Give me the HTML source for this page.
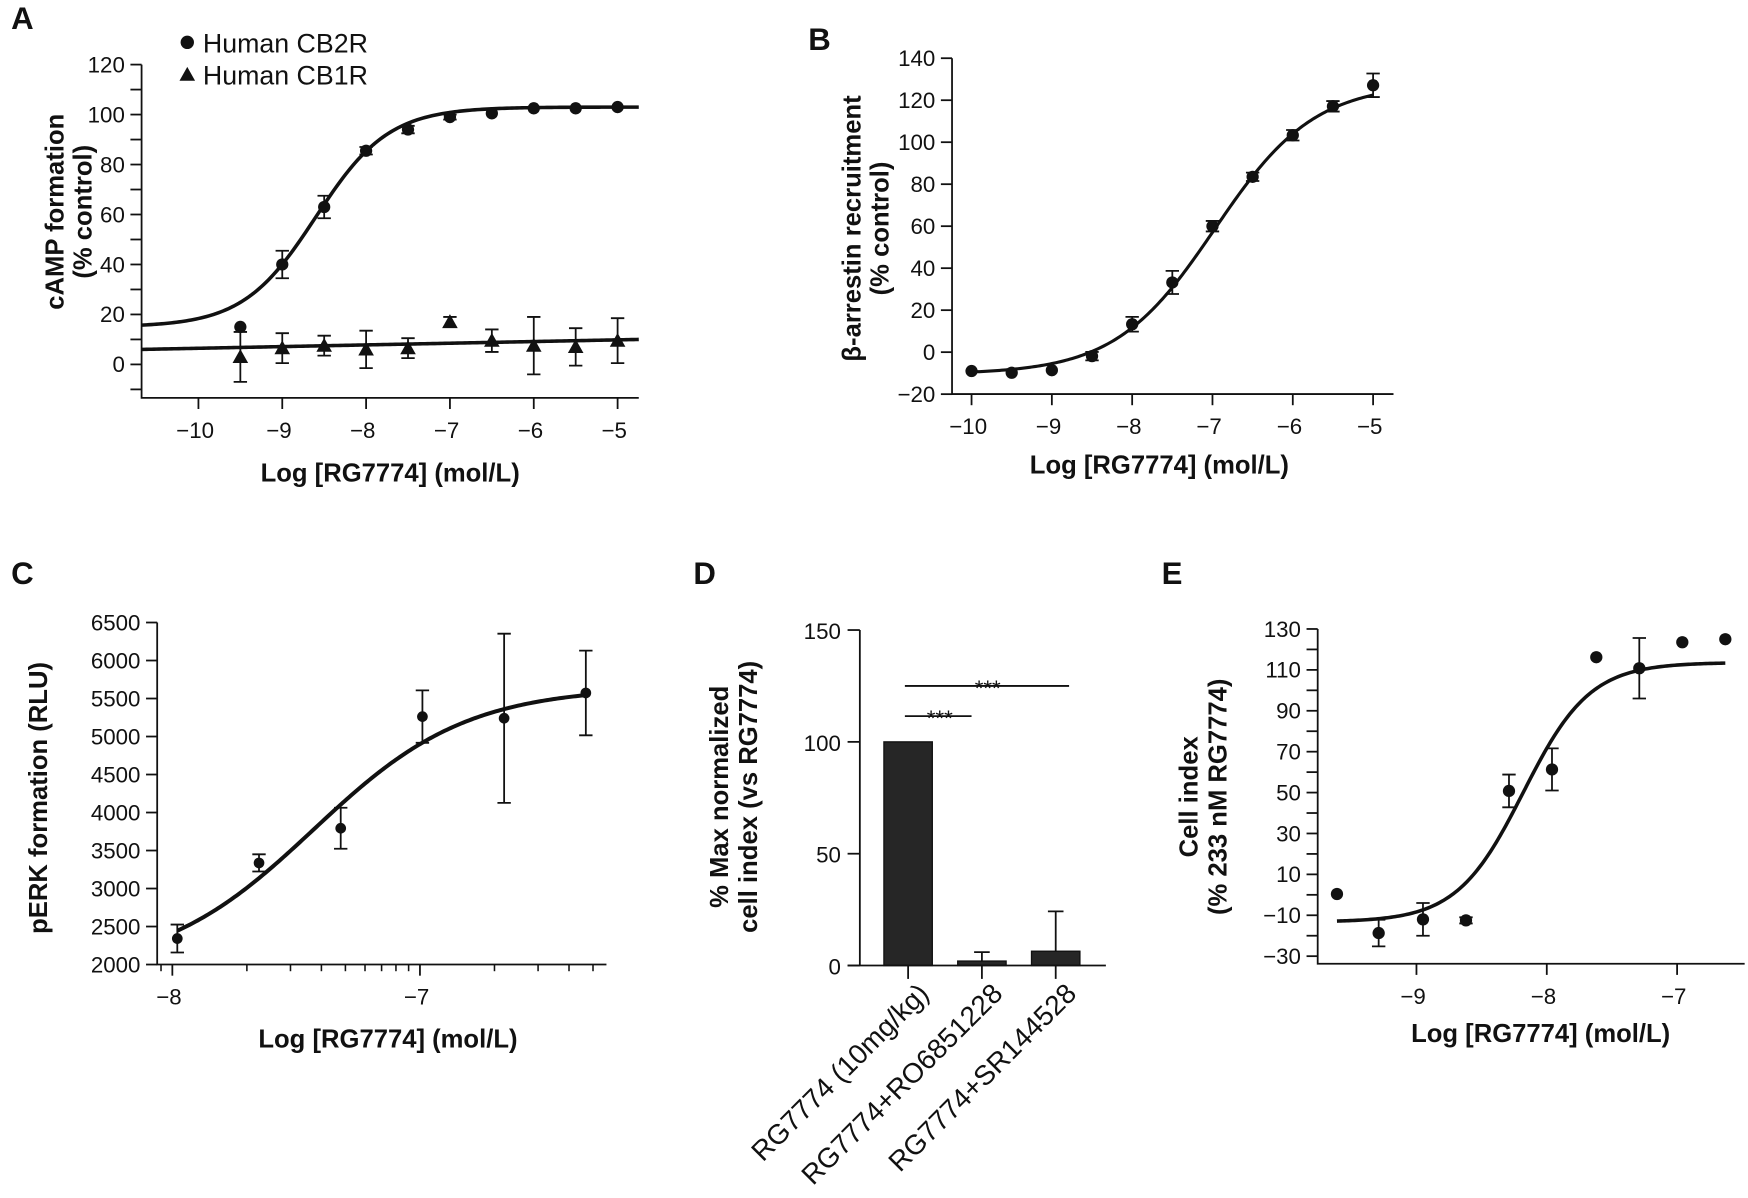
<!DOCTYPE html>
<html><head><meta charset="utf-8">
<style>
html,body{margin:0;padding:0;background:#fff;}
svg{display:block;}
text{font-family:"Liberation Sans",Arial,sans-serif;fill:#111;}
.tk{font-size:20px;}
.tt{font-size:23px;font-weight:bold;}
.pl{font-size:28px;font-weight:bold;}
.cat{font-size:25px;}
.lg{font-size:24px;}
</style></head>
<body>
<svg id="fig" width="1748" height="1198" viewBox="0 0 1568 1075" preserveAspectRatio="none" xmlns="http://www.w3.org/2000/svg"></svg>
<script>
// ---- Panel A data ----
const aLogX = [-9.5,-9,-8.5,-8,-7.5,-7,-6.5,-6,-5.5,-5];
const aCB2 = [15,40,63,85.5,94,99,100.5,102.5,102.5,103];
const aCB2err = [0,5.5,4.5,1.5,1.5,1,0.8,0.8,0.8,0.5];
const aCB1 = [3,6.5,7.5,6,6.5,17,9.5,7.5,7,9.5];
const aCB1err = [10,6,4,7.5,4,2,4.5,11.5,7.5,9];
const aFitCB2 = [15,103,-8.6,1]; // bottom, top, logEC50, hill
const aFitCB1 = [6,10]; // linear fit at left/right end of axis
const aYTicks = [0,20,40,60,80,100,120];
const aXTicks = [-10,-9,-8,-7,-6,-5];
// ---- Panel B data ----
const bLogX = [-10,-9.5,-9,-8.5,-8,-7.5,-7,-6.5,-6,-5.5,-5];
const bVal = [-9,-9.8,-8.6,-1.9,13.3,33.2,60,83.5,103.3,117.1,127.1];
const bErr = [0.8,1,1,2,3.5,5.5,2.5,2,2.5,2.5,5.6];
const bFit = [-10.5,128,-6.97,0.7];
const bYTicks = [-20,0,20,40,60,80,100,120,140];
const bXTicks = [-10,-9,-8,-7,-6,-5];
// ---- Panel C data ----
const cLogX = [-7.98,-7.65,-7.32,-6.99,-6.66,-6.33];
const cVal = [2342,3337,3793,5262,5240,5573];
const cErr = [184,113,270,345,1113,557];
const cFit = [1900,5650,-7.43,1.4];
const cYTicks = [2000,2500,3000,3500,4000,4500,5000,5500,6000,6500];
const cXTicks = [-8,-7];
// ---- Panel D data ----
const dCats = ["RG7774 (10mg/kg)","RG7774+RO6851228","RG7774+SR144528"];
const dVal = [100,2,6.4];
const dErr = [0,4,17.8];
const dYTicks = [0,50,100,150];
// ---- Panel E data ----
const eLogX = [-9.61,-9.29,-8.95,-8.62,-8.29,-7.96,-7.62,-7.29,-6.96,-6.63];
const eVal = [0.4,-18.7,-12,-12.5,50.8,61.3,116.2,110.8,123.5,125];
const eErr = [0,6.5,8,1.5,8,10.3,0,14.8,0,0];
const eFit = [-13.3,113.6,-8.18,1.7];
const eYTicks = [-30,-10,10,30,50,70,90,110,130];
const eXTicks = [-9,-8,-7];

const NS = "http://www.w3.org/2000/svg";
const svg = document.getElementById('fig');
function mk(tag, attrs, parent){
  const e = document.createElementNS(NS, tag);
  for (const k in attrs) e.setAttribute(k, attrs[k]);
  (parent||svg).appendChild(e);
  return e;
}
function txt(s, x, y, cls, anchor, parent, rot){
  const t = mk('text', {x:x, y:y, class:cls, 'text-anchor':anchor||'middle'}, parent);
  if (rot) t.setAttribute('transform', 'rotate('+rot+' '+x+' '+y+')');
  t.textContent = s;
  return t;
}
function fmt(v){ return v<0 ? '\u2212'+Math.abs(v) : String(v); }
function sig(p, x){ return p[0] + (p[1]-p[0])/(1+Math.pow(10,(p[2]-x)*p[3])); }
function linePath(fn, x0, x1, sx, sy){
  let d='';
  for(let i=0;i<=200;i++){const x=x0+(x1-x0)*i/200; d+=(i?'L':'M')+sx(x).toFixed(2)+' '+sy(fn(x)).toFixed(2);}
  return d;
}
function axes(g, ax){
  const a = mk('path',{d:'M'+ax.x0+' '+ax.yTop+'L'+ax.x0+' '+ax.yBot+'L'+ax.x1+' '+ax.yBot,fill:'none',stroke:'#111','stroke-width':1.6},g);
  
  
  ax.yTicks.forEach(v=>{
    const y=ax.sy(v);
    mk('line',{x1:ax.x0-10,x2:ax.x0,y1:y,y2:y,stroke:'#111','stroke-width':1.6},g);
    const t=txt(fmt(v), ax.x0-15, y+7, 'tk','end',g);
    
    
  });
  (ax.yMinor||[]).forEach(v=>{
    const y=ax.sy(v);
    mk('line',{x1:ax.x0-10,x2:ax.x0,y1:y,y2:y,stroke:'#111','stroke-width':1.6},g);
  });
  ax.xTicks.forEach(v=>{
    const x=ax.sx(v);
    mk('line',{x1:x,x2:x,y1:ax.yBot,y2:ax.yBot+(ax.xtl||10),stroke:'#111','stroke-width':1.6},g);
    const t=txt(fmt(v), x-3, ax.yBot+36, 'tk','middle',g);
    
    
  });
  (ax.xMinor||[]).forEach(v=>{
    const x=ax.sx(v);
    mk('line',{x1:x,x2:x,y1:ax.yBot,y2:ax.yBot+6,stroke:'#111','stroke-width':1.4},g);
  });
}
function errbar(g,x,y1,y2){
  const p = mk('path',{d:'M'+x+' '+y1+'L'+x+' '+y2+'M'+(x-6)+' '+y1+'L'+(x+6)+' '+y1+'M'+(x-6)+' '+y2+'L'+(x+6)+' '+y2,stroke:'#111','stroke-width':1.6,fill:'none'},g);
  
  
}
function dot(g,x,y,r){
  const c = mk('circle',{cx:x,cy:y,r:r||5.5,fill:'#111'},g);
  
  
}
function tri(g,x,y){
  const p = mk('path',{d:'M'+x+' '+(y-7)+'L'+(x+7)+' '+(y+5.5)+'L'+(x-7)+' '+(y+5.5)+'Z',fill:'#111'},g);
  
  
}
function curve(g, fn, x0, x1, sx, sy, w){
  const p = mk('path',{d:linePath(fn,x0,x1,sx,sy),fill:'none',stroke:'#111','stroke-width':w||3.2},g);
  
  
}
function logMinors(lo, hi){
  const out=[];
  for(let d=Math.floor(lo)-1; d<=Math.ceil(hi); d++){
    for(let k=2;k<=9;k++){const v=d+Math.log10(k); if(v>lo && v<hi) out.push(v);}
  }
  return out;
}

// ===== Panel A =====
(function(){
  const g = mk('g',{});
  
  
  const sx = v => 178 + (v+10)*75.2;
  const sy = v => 327 - v*2.242;
  const x0=127, x1=573, yBot=357;
  const xmin=-10-(178-x0)/75.2, xmax=-10+(x1-178)/75.2;
  axes(g,{x0:x0,x1:x1,yTop:sy(120),yBot:yBot,sx:sx,sy:sy,yTicks:aYTicks,xTicks:aXTicks,yMinor:[-10,10,30,50,70,90,110]});
  curve(g, x=>sig(aFitCB2,x), xmin, xmax, sx, sy);
  curve(g, x=>aFitCB1[0]+(aFitCB1[1]-aFitCB1[0])*(x-xmin)/(xmax-xmin), xmin, xmax, sx, sy);
  aLogX.forEach((lx,i)=>{
    if(aCB2err[i]>0.9) errbar(g,sx(lx),sy(aCB2[i]+aCB2err[i]),sy(aCB2[i]-aCB2err[i]));
    dot(g,sx(lx),sy(aCB2[i]));
    errbar(g,sx(lx),sy(aCB1[i]+aCB1err[i]),sy(aCB1[i]-aCB1err[i]));
    tri(g,sx(lx),sy(aCB1[i]));
  });
  const l=txt('A',10,26,'pl','start',g);  
  dot(g,168,38,6); const t1=txt('Human CB2R',182,47,'lg','start',g);  
  tri(g,168,67); const t2=txt('Human CB1R',182,76,'lg','start',g);  
  const y1=txt('cAMP formation',57,190,'tt','middle',g,-90);  
  txt('(% control)',82,190,'tt','middle',g,-90);
  const xt=txt('Log [RG7774] (mol/L)',350,432,'tt','middle',g);  
})();

// ===== Panel B =====
(function(){
  const g = mk('g',{});
  
  
  const sx = v => 871.5 + (v+10)*72.04;
  const sy = v => 316 - v*1.884;
  const x0=854, x1=1250, yBot=353.6;
  axes(g,{x0:x0,x1:x1,yTop:sy(140),yBot:yBot,sx:sx,sy:sy,yTicks:bYTicks,xTicks:bXTicks});
  curve(g, x=>sig(bFit,x), -10, -5, sx, sy, 2.8);
  bLogX.forEach((lx,i)=>{
    if(bErr[i]>1.5) errbar(g,sx(lx),sy(bVal[i]+bErr[i]),sy(bVal[i]-bErr[i]));
    dot(g,sx(lx),sy(bVal[i]));
  });
  const l=txt('B',725,45,'pl','start',g);  
  const y1=txt('\u03B2-arrestin recruitment',772,205,'tt','middle',g,-90);  
  txt('(% control)',797,205,'tt','middle',g,-90);
  const xt=txt('Log [RG7774] (mol/L)',1040,425,'tt','middle',g);  
})();

// ===== Panel C =====
(function(){
  const g = mk('g',{});
  
  
  const sx = v => 154.6 + (v+8)*222.1;
  const sy = v => 865.5 - (v-2000)*0.0682;
  const x0=141, x1=544, yBot=865.5;
  const xmin=-8-(154.6-x0)/222.1, xmax=-8+(x1-154.6)/222.1;
  axes(g,{x0:x0,x1:x1,yTop:sy(6500),yBot:yBot,sx:sx,sy:sy,yTicks:cYTicks,xTicks:cXTicks,xMinor:logMinors(xmin,xmax)});
  curve(g, x=>sig(cFit,x), -7.98, -6.33, sx, sy, 3.6);
  cLogX.forEach((lx,i)=>{
    errbar(g,sx(lx),sy(cVal[i]+cErr[i]),sy(cVal[i]-cErr[i]));
    dot(g,sx(lx),sy(cVal[i]),4.8);
  });
  const l=txt('C',10,524,'pl','start',g);  
  const y1=txt('pERK formation (RLU)',42,716,'tt','middle',g,-90);  
  const xt=txt('Log [RG7774] (mol/L)',348,940,'tt','middle',g);  
})();

// ===== Panel D =====
(function(){
  const g = mk('g',{});
  
  
  const sy = v => 866.4 - v*2.007;
  const cx = i => 814.6 + i*66.2;
  const bw = 43.4;
  const x0=771.3, x1=992, yBot=866.4;
  mk('line',{x1:x0,x2:x0,y1:sy(150),y2:yBot,stroke:'#111','stroke-width':1.6},g);
  dYTicks.forEach(v=>{
    const y=sy(v);
    mk('line',{x1:x0-11,x2:x0,y1:y,y2:y,stroke:'#111','stroke-width':1.6},g);
    const t=txt(String(v),x0-17,y+8,'tk','end',g);
    t.setAttribute('font-size','23');
    
    
  });
  dVal.forEach((v,i)=>{
    if(dErr[i]>0){
      const p=mk('path',{d:'M'+cx(i)+' '+sy(v)+'L'+cx(i)+' '+sy(v+dErr[i])+'M'+(cx(i)-7)+' '+sy(v+dErr[i])+'L'+(cx(i)+7)+' '+sy(v+dErr[i]),stroke:'#111','stroke-width':1.6,fill:'none'},g);
      
      
    }
    const r=mk('rect',{x:cx(i)-bw/2,y:sy(v),width:bw,height:yBot-sy(v),fill:'#262626',stroke:'#111','stroke-width':1.2},g);
    
    
    mk('line',{x1:cx(i),x2:cx(i),y1:yBot,y2:yBot+12,stroke:'#111','stroke-width':1.6},g);
    const t=txt(dCats[i],cx(i)+20,893,'cat','end',g,-45);
    
    
  });
  mk('line',{x1:x0-11,x2:x1,y1:yBot,y2:yBot,stroke:'#111','stroke-width':1.6},g);
  const s1=mk('line',{x1:811.7,x2:871.5,y1:sy(111.5),y2:sy(111.5),stroke:'#111','stroke-width':1.6},g);
   
  txt('***',843,sy(111.5)+9,'tk','middle',g).setAttribute('font-size','24');
  const s2=mk('line',{x1:811.7,x2:959,y1:sy(125),y2:sy(125),stroke:'#111','stroke-width':1.6},g);
   
  txt('***',886,sy(125)+9,'tk','middle',g).setAttribute('font-size','24');
  const l=txt('D',622,524,'pl','start',g);  
  const y1=txt('% Max normalized',653,715,'tt','middle',g,-90);  
  txt('cell index (vs RG7774)',679,715,'tt','middle',g,-90);
})();

// ===== Panel E =====
(function(){
  const g = mk('g',{});
  
  
  const sx = v => 1270.6 + (v+9)*116.9;
  const sy = v => 564.4 - (v-130)*1.835;
  const x0=1182, x1=1565, yBot=864.8;
  axes(g,{x0:x0,x1:x1,yTop:sy(130),yBot:yBot,sx:sx,sy:sy,yTicks:eYTicks,xTicks:eXTicks,yMinor:[-20,0,20,40,60,80,100,120]});
  curve(g, x=>sig(eFit,x), -9.61, -6.63, sx, sy, 3.2);
  eLogX.forEach((lx,i)=>{
    if(eErr[i]>0) errbar(g,sx(lx),sy(eVal[i]+eErr[i]),sy(eVal[i]-eErr[i]));
    dot(g,sx(lx),sy(eVal[i]));
  });
  const l=txt('E',1042,524,'pl','start',g);  
  const y1=txt('Cell index',1074,715,'tt','middle',g,-90);  
  txt('(% 233 nM RG7774)',1100,715,'tt','middle',g,-90);
  const xt=txt('Log [RG7774] (mol/L)',1382,935,'tt','middle',g);  
})();
</script>
</body></html>
